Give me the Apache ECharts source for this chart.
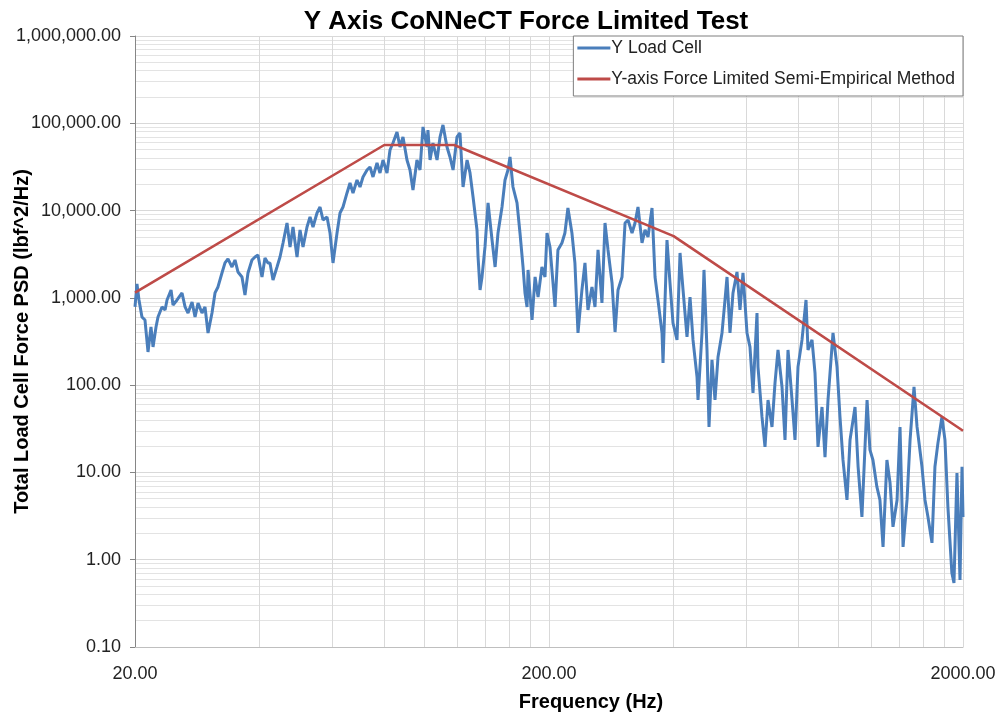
<!DOCTYPE html>
<html>
<head>
<meta charset="utf-8">
<script src="https://cdn.jsdelivr.net/npm/echarts@6/dist/echarts.min.js"></script>
<style>
  html, body { margin: 0; padding: 0; background: #fff; }
  #chart { width: 1000px; height: 717px; }
</style>
</head>
<body>
<div id="chart"></div>
<script>
// Y Load Cell trace (Hz / lbf^2/Hz)
const loadCellFreq = [
  20.0, 20.22, 20.45, 20.79, 21.14, 21.50, 21.86, 22.11, 22.48, 22.73, 23.24, 23.64, 23.90, 24.44, 24.71, 25.27, 25.98, 26.42, 26.86, 27.47,
  27.93, 28.40, 29.03, 29.52, 30.02, 30.69, 31.21, 31.73, 32.44, 32.99, 33.54, 34.30, 34.88, 35.46, 36.26, 36.87, 37.49, 38.33, 38.98, 39.63,
  40.53, 41.21, 41.90,
  42.37, 43.09, 44.06, 44.80, 45.56, 46.58, 47.37, 48.16, 49.25, 50.08, 50.92, 52.06, 52.94, 53.83, 55.04, 55.97, 56.91, 58.19, 59.17, 60.16,
  61.52, 62.55, 63.60, 65.03, 66.13, 67.24, 68.75, 69.91, 71.08, 72.69, 73.91, 75.15, 76.84, 78.13, 79.45, 81.23, 82.60, 83.98, 85.87, 87.31,
  88.78, 90.78,
  92.31, 93.86, 95.96, 97.60, 99.24, 101.5, 102.0, 103.2, 104.9, 107.3, 109.1, 110.9, 113.4, 115.3, 117.3, 119.9, 121.9, 124.0, 126.8, 128.9,
  131.1, 134.0, 134.8, 136.3, 137.8, 140.1, 142.5, 145.7, 148.2, 150.6, 154.0, 156.6, 159.2, 161.0, 163.7, 167.4, 170.2, 173.1, 175.0, 177.0,
  178.0, 182.0, 185.1, 188.2, 192.3, 195.6, 197.8, 201.1,
  204.5, 206.8, 210.2, 214.9, 218.5, 222.2, 227.2, 231.0, 235.0, 240.2, 244.3, 248.4, 254.0, 258.3, 262.7, 268.5, 273.1, 277.7, 284.0, 288.8,
  293.6, 300.2, 305.3, 310.4, 317.4, 322.7, 328.1, 335.5, 341.2, 346.9, 354.7, 360.7, 366.7, 375.0, 377.1, 385.5, 392.0, 398.6, 407.6, 414.5,
  421.5, 430.9, 438.2,
  445.5, 455.6, 458.1, 468.4, 473.6, 481.6, 487.0, 495.1, 503.5, 512.0, 523.5, 532.3, 538.3, 547.3, 556.5, 569.0, 578.6, 588.3, 601.6, 611.6,
  622.0, 636.0, 639.5, 653.9, 664.9, 676.2, 691.3, 703.0, 714.8, 730.9, 743.2, 755.7, 772.8, 785.7, 798.9, 816.9, 835.3, 844.6, 863.6, 878.1,
  892.9, 913.0, 928.4, 944.0,
  954.5, 970.6, 992.5, 1009, 1026, 1049, 1067, 1097, 1116, 1140, 1173, 1192, 1212, 1239, 1260, 1282, 1310, 1333, 1355, 1386,
  1409, 1433, 1465, 1490, 1523, 1549, 1592, 1619, 1646, 1683, 1711, 1740, 1779, 1809, 1839, 1880, 1902, 1934, 1967, 1989, 2000
];
const loadCellPsd = [
  787, 1442, 946, 604, 558, 240, 464, 274, 464, 604, 787, 727, 946, 1231, 829, 946, 1138, 787, 671, 897,
  604, 873, 671, 787, 396, 671, 1138, 1333, 1928, 2512, 2791, 2258, 2716, 1981, 1735, 1079, 1928, 2716, 2938, 3097,
  1735, 2864, 2512,
  2512, 1604, 2258, 2938, 4256, 7211, 3828, 6486, 2938, 5998, 3828, 6486, 8453, 6486, 9376, 10990, 7800, 8453, 5534, 2512,
  5534, 9376, 10990, 15920, 20700, 15920, 22390, 18620, 24270, 29170, 31550, 24270, 35080, 26980, 38000, 26980, 49430, 59430, 79450, 53460,
  69660, 38000,
  29170, 17220, 38000, 29170, 90740, 53460, 83780, 38000, 59430, 38000, 69660, 95630, 53460, 41110, 29170, 69660, 77400, 18620, 38000, 26980,
  14320, 5998, 2938, 1231, 1735, 3828, 12220, 4603, 2258, 5534, 10990, 22390, 29170, 41110, 18620, 12220, 5534, 2258, 1138, 787,
  2089, 558, 1735, 1023, 2258, 1735, 5534, 3828,
  1481, 787, 3539, 4256, 5534, 10710, 5534, 2512, 396, 1231, 2512, 727, 1333, 787, 3539, 873, 7211, 3539, 1481, 406,
  1231, 1735, 7211, 7800, 5534, 7211, 10990, 4256, 5998, 4986, 10710, 1735, 946, 396, 180, 4603, 1481, 515, 330, 3266,
  1231, 357, 1023,
  330, 124, 67.6, 396, 2089, 253, 33.2, 194.5, 67.6, 210, 396, 946, 1735, 396, 1138, 1981, 727, 1928, 396, 274,
  81.4, 671, 162, 43.2, 19.6, 67.6, 33.2, 106, 253, 95.3, 23.6, 253, 67.6, 23.6, 162, 330, 946, 253, 330, 138,
  19.6, 56.2, 15.0, 67.6,
  67.6, 396, 162, 43.2, 13.9, 4.84, 23.6, 56.2, 11.6, 3.09, 67.6, 18.1, 13.9, 6.82, 4.84, 1.40, 13.9, 7.59, 2.38, 4.84,
  33.2, 1.40, 4.84, 23.6, 95.3, 33.2, 11.6, 4.84, 3.09, 1.56, 11.6, 21.8, 43.2, 23.6, 4.03, 0.706, 0.542, 9.86, 0.586, 11.6, 3.09
];

// semi-empirical force limit (break points)
const limitFreq = [20, 80, 118, 400, 2000];
const limitPsd = [1150, 56400, 56400, 5100, 30];

// axis ticks / gridlines
const xGridValues = [20, 40, 60, 80, 100, 120, 140, 160, 180, 200, 400, 600, 800, 1000, 1200, 1400, 1600, 1800, 2000];
const xLabelValues = [20, 200, 2000];
const yLabelValues = [0.1, 1, 10, 100, 1000, 10000, 100000, 1000000];
const yMinorSteps = [2, 3, 4, 5, 6, 7, 8, 9];

const yMinorValues = [];
yLabelValues.slice(0, -1).forEach(d => yMinorSteps.forEach(k => yMinorValues.push(+(d * k).toPrecision(3))));

const FONT = "'Liberation Sans', Arial, sans-serif";

const fmtY = v => Number(v).toLocaleString('en-US', { minimumFractionDigits: 2, maximumFractionDigits: 2 });
const fmtX = v => Number(v).toFixed(2);

const chart = echarts.init(document.getElementById('chart'));

chart.setOption({
  animation: false,
  backgroundColor: '#fff',
  textStyle: { fontFamily: FONT },
  title: {
    text: 'Y Axis CoNNeCT Force Limited Test',
    left: 521,
    textAlign: 'center',
    top: 4,
    textStyle: { fontFamily: FONT, fontSize: 26, fontWeight: 'bold', color: '#000' }
  },
  legend: {
    orient: 'vertical',
    right: 37,
    top: 36,
    icon: 'rect',
    itemWidth: 33,
    itemHeight: 3,
    itemGap: 13,
    padding: [3, 8, 8, 4],
    borderColor: '#7f7f7f',
    borderWidth: 1,
    borderRadius: 0,
    backgroundColor: '#fff',
    textStyle: { fontFamily: FONT, fontSize: 17.5, color: '#222', padding: [0, 0, 0, -4] },
    data: ['Y Load Cell', 'Y-axis Force Limited Semi-Empirical Method']
  },
  grid: { left: 135, right: 37, top: 36, bottom: 70, outerBoundsMode: 'none' },
  xAxis: {
    type: 'log',
    logBase: 10,
    min: 20,
    max: 2000,
    name: 'Frequency (Hz)',
    nameLocation: 'middle',
    nameGap: 45,
    nameTextStyle: { fontFamily: FONT, fontSize: 20, fontWeight: 'bold', color: '#000', padding: [0, 0, 0, 84] },
    axisLine: { show: true, lineStyle: { color: '#bfbfbf' } },
    axisTick: { show: false, customValues: xGridValues },
    axisLabel: { customValues: xLabelValues, formatter: fmtX, fontSize: 18, color: '#222', margin: 18 },
    splitLine: { show: true, lineStyle: { color: '#d9d9d9', width: 1 } }
  },
  yAxis: [
    {
      type: 'log',
      logBase: 10,
      min: 0.1,
      max: 1000000,
      name: 'Total Load Cell Force PSD (lbf^2/Hz)',
      nameLocation: 'middle',
      nameGap: 103,
      nameMoveOverlap: false,
      nameTextStyle: { fontFamily: FONT, fontSize: 20, fontWeight: 'bold', color: '#000' },
      axisLine: { show: true, lineStyle: { color: '#868686' } },
      axisTick: { show: true, length: 5, customValues: yLabelValues, lineStyle: { color: '#868686' } },
      axisLabel: { customValues: yLabelValues, formatter: fmtY, fontSize: 18, color: '#222', margin: 14 },
      splitLine: { show: true, lineStyle: { color: '#d9d9d9', width: 1 } }
    },
    {
      // minor gridlines only
      type: 'log',
      logBase: 10,
      min: 0.1,
      max: 1000000,
      position: 'left',
      axisLine: { show: false },
      axisTick: { show: false, customValues: yMinorValues },
      axisLabel: { show: false },
      splitLine: { show: true, lineStyle: { color: '#e3e3e3', width: 1 } }
    }
  ],
  series: [
    {
      name: 'Y Load Cell',
      type: 'line',
      yAxisIndex: 0,
      symbol: 'none',
      data: loadCellFreq.map((f, i) => [f, loadCellPsd[i]]),
      lineStyle: { color: '#4a7ebb', width: 3 },
      itemStyle: { color: '#4a7ebb' }
    },
    {
      name: 'Y-axis Force Limited Semi-Empirical Method',
      type: 'line',
      yAxisIndex: 0,
      symbol: 'none',
      data: limitFreq.map((f, i) => [f, limitPsd[i]]),
      lineStyle: { color: '#be4b48', width: 2.6 },
      itemStyle: { color: '#be4b48' }
    }
  ]
});
</script>
</body>
</html>
